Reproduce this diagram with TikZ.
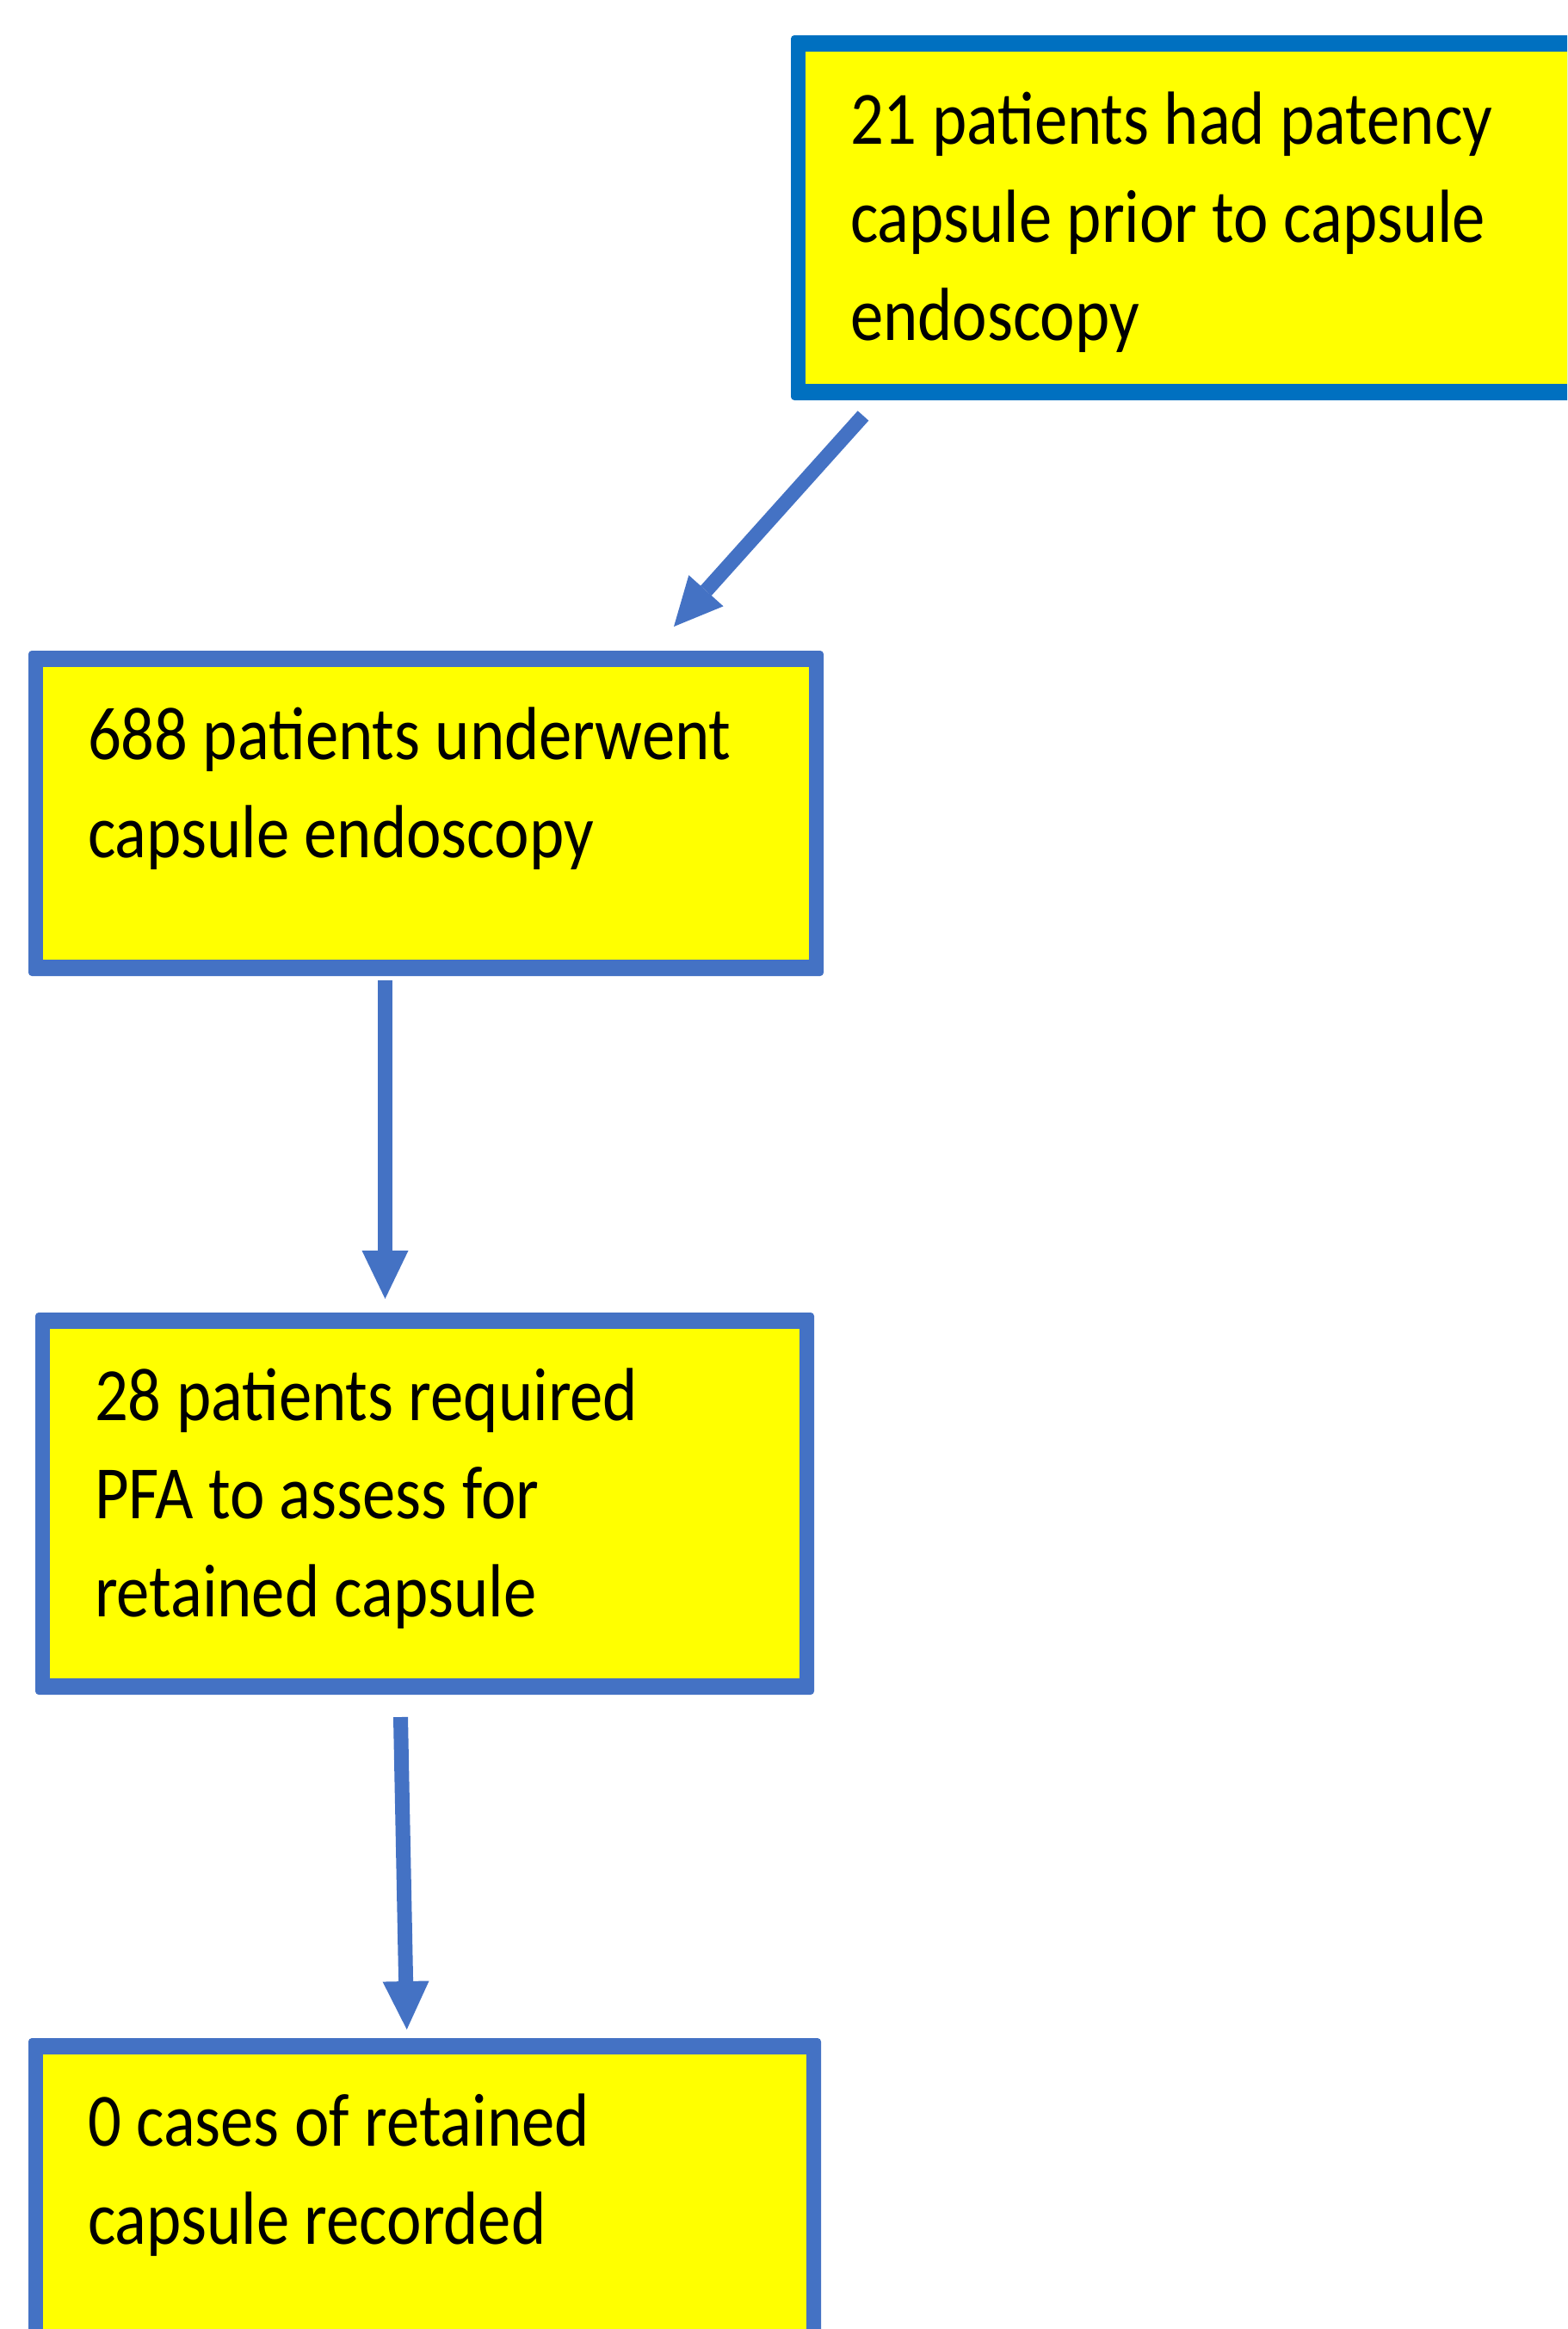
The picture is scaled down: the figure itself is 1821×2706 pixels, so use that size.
\documentclass[tikz,border=0pt]{standalone}
\usepackage{fontspec}
\setmainfont{Carlito}
\usepackage{graphicx}
\usetikzlibrary{arrows.meta,calc}
\definecolor{bordA}{HTML}{0070C0}
\definecolor{bordB}{HTML}{4472C4}
\definecolor{boxfill}{HTML}{FFFF00}
\tikzset{
  boxbase/.style={anchor=north west, inner sep=0pt, outer sep=0pt, rounded corners=4pt,
    path picture={\fill[boxfill, sharp corners]
      ([xshift=17pt,yshift=-19pt]path picture bounding box.north west) rectangle
      ([xshift=-17pt,yshift=19pt]path picture bounding box.south east);}},
  topbox/.style={boxbase, fill=bordA},
  flowbox/.style={boxbase, fill=bordB},
  txt/.style={anchor=base west, inner sep=0pt, outer sep=0pt,
    font=\fontsize{76.7}{100.4}\selectfont},
  flowarrow/.style={draw=bordB, line width=17pt, line cap=butt,
    -{Triangle[width=54pt,length=56pt,line width=0pt]}},
}
\newcommand{\boxtext}[1]{\scalebox{1}[1.14]{\begin{tabular}[t]{@{}l@{}}#1\end{tabular}}}
\begin{document}
\begin{tikzpicture}[x=1pt,y=1pt]
\fill[white] (0,0) rectangle (1821,-2706);
\path[use as bounding box] (0,0) rectangle (1821,-2706);
\clip (0,0) rectangle (1821,-2706);

% boxes
\node[topbox, minimum width=940pt, minimum height=424pt] (b1) at (919,-41) {};
\node[flowbox, minimum width=924pt, minimum height=378pt] (b2) at (33,-756) {};
\node[flowbox, minimum width=905pt, minimum height=444pt] (b3) at (41,-1525) {};
\node[flowbox, minimum width=921pt, minimum height=420pt] (b4) at (33,-2368) {};

% texts
\node[txt] (t1) at ([shift={(69,-126)}]b1.north west)
  {\boxtext{21 patients had patency\\capsule prior to capsule\\endoscopy}};
\node[txt] (t2) at ([shift={(69,-126)}]b2.north west)
  {\boxtext{688 patients underwent\\capsule endoscopy}};
\node[txt] (t3) at ([shift={(69,-125)}]b3.north west)
  {\boxtext{28 patients required\\PFA to assess for\\retained capsule}};
\node[txt] (t4) at ([shift={(69,-125)}]b4.north west)
  {\boxtext{0 cases of retained\\capsule recorded}};

% connectors
\draw[flowarrow] ([shift={(84,-18)}]b1.south west) -- ([shift={(750,28)}]b2.north west);
\draw[flowarrow] ([shift={(414.5,-5)}]b2.south west) -- ([shift={(406.5,16)}]b3.north west);
\draw[flowarrow] ([shift={(424.5,-26)}]b3.south west) -- ([shift={(439.7,10)}]b4.north west);
\end{tikzpicture}
\end{document}
